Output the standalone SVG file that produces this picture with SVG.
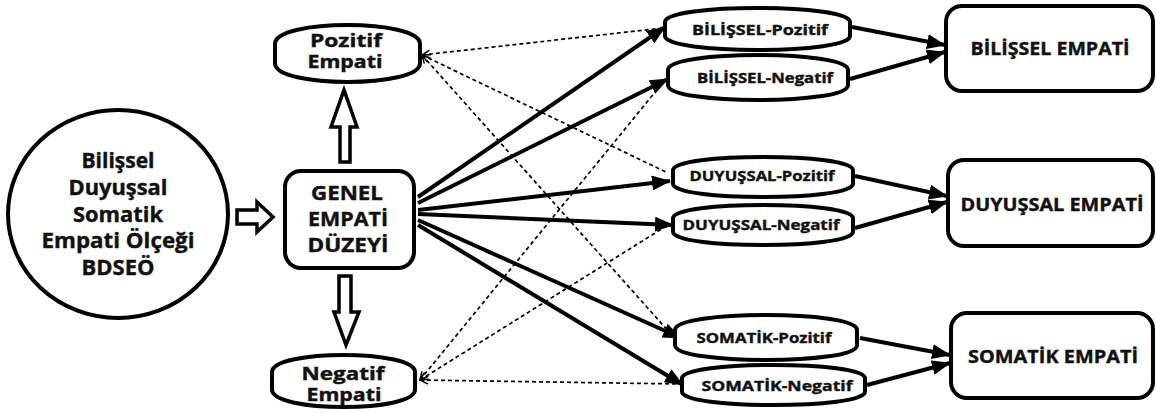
<svg xmlns="http://www.w3.org/2000/svg" width="1156" height="414" viewBox="0 0 1156 414">
<style>
  .shape { fill: #fff; stroke: #000; stroke-width: 4; }
  .block { fill: #fff; stroke: #000; stroke-width: 3.5; stroke-linejoin: miter; }
  .t { font-family: "Open Sans", "Noto Sans", "DejaVu Sans", sans-serif; font-weight: 700; fill: #111; stroke: #111; stroke-width: 0.4; text-anchor: middle; }
  .solid { stroke: #000; stroke-width: 4; fill: none; marker-end: url(#ah); }
  .dot { stroke: #000; stroke-width: 1.7; fill: none; stroke-dasharray: 4 3; marker-start: url(#oh); }
</style>
<defs>
  <marker id="ah" markerUnits="userSpaceOnUse" markerWidth="19" markerHeight="15" refX="18" refY="7.5" orient="auto">
    <path d="M0,0 L19,7.5 L0,15 Z" fill="#000"/>
  </marker>
  <marker id="oh" markerUnits="userSpaceOnUse" markerWidth="10" markerHeight="10" refX="1" refY="5" orient="auto">
    <path d="M9,1 L1,5 L9,9" fill="none" stroke="#000" stroke-width="1.5"/>
  </marker>
</defs>
<rect width="1156" height="414" fill="#fff"/>

<g id="connectors">
  <!-- dotted from Pozitif Empati -->
  <line class="dot" x1="422" y1="55" x2="663" y2="28"/>
  <line class="dot" x1="422" y1="55" x2="668" y2="173"/>
  <line class="dot" x1="422" y1="55" x2="670" y2="333"/>
  <!-- dotted from Negatif Empati -->
  <line class="dot" x1="420" y1="380" x2="665" y2="80"/>
  <line class="dot" x1="420" y1="380" x2="668" y2="225"/>
  <line class="dot" x1="420" y1="380" x2="680" y2="384"/>
  <!-- solid from GENEL -->
  <line class="solid" x1="418" y1="197" x2="665" y2="27"/>
  <line class="solid" x1="418" y1="203" x2="668" y2="79"/>
  <line class="solid" x1="418" y1="210" x2="670" y2="181"/>
  <line class="solid" x1="418" y1="214" x2="673" y2="225"/>
  <line class="solid" x1="418" y1="220" x2="681" y2="338"/>
  <line class="solid" x1="418" y1="225" x2="683" y2="385"/>
  <!-- to big boxes -->
  <line class="solid" x1="852" y1="27" x2="945" y2="45"/>
  <line class="solid" x1="850" y1="79" x2="945" y2="52"/>
  <line class="solid" x1="855" y1="176" x2="947" y2="196"/>
  <line class="solid" x1="855" y1="228" x2="947" y2="202"/>
  <line class="solid" x1="860" y1="338" x2="950" y2="355"/>
  <line class="solid" x1="867" y1="385" x2="950" y2="363"/>
  <!-- block arrows -->
  <path class="block" d="M237,210 L257,210 L257,202 L273,217 L257,232 L257,224 L237,224 Z"/>
  <path class="block" d="M340,162 L340,127 L331,127 L344,90 L357,127 L350,127 L350,162 Z"/>
  <path class="block" d="M339,276 L351,276 L351,312 L359,312 L346,345 L334,312 L339,312 Z"/>
</g>

<g id="scale">
  <ellipse class="shape" cx="118" cy="214" rx="110" ry="104"/>
  <text class="t" x="118" y="168" font-size="21" textLength="73" lengthAdjust="spacingAndGlyphs">Bilişsel</text>
  <text class="t" x="118" y="195" font-size="21" textLength="99" lengthAdjust="spacingAndGlyphs">Duyuşsal</text>
  <text class="t" x="118" y="222" font-size="21" textLength="90" lengthAdjust="spacingAndGlyphs">Somatik</text>
  <text class="t" x="118" y="248" font-size="21" textLength="153" lengthAdjust="spacingAndGlyphs">Empati Ölçeği</text>
  <text class="t" x="118" y="275" font-size="21" textLength="73" lengthAdjust="spacingAndGlyphs">BDSEÖ</text>
</g>

<g id="genel">
  <rect class="shape" x="285" y="171" width="129" height="97" rx="16"/>
  <text class="t" x="347" y="200" font-size="20" textLength="72" lengthAdjust="spacingAndGlyphs">GENEL</text>
  <text class="t" x="348" y="226" font-size="20" textLength="80" lengthAdjust="spacingAndGlyphs">EMPATİ</text>
  <text class="t" x="348" y="252" font-size="20" textLength="81" lengthAdjust="spacingAndGlyphs">DÜZEYİ</text>
</g>

<g id="pozitif">
  <path class="shape" d="M275,43.8 C275,18.7 420,18.7 420,43.8 L420,63.2 C420,88.3 275,88.3 275,63.2 Z"/>
  <text class="t" x="346" y="47" font-size="17" textLength="72" lengthAdjust="spacingAndGlyphs">Pozitif</text>
  <text class="t" x="345" y="68" font-size="17" textLength="75" lengthAdjust="spacingAndGlyphs">Empati</text>
</g>

<g id="negatif">
  <path class="shape" d="M272,372.2 C272,349.3 415,349.3 415,372.2 L415,389.8 C415,412.7 272,412.7 272,389.8 Z"/>
  <text class="t" x="343" y="380" font-size="17" textLength="83" lengthAdjust="spacingAndGlyphs">Negatif</text>
  <text class="t" x="344" y="401" font-size="17" textLength="75" lengthAdjust="spacingAndGlyphs">Empati</text>
</g>

<g id="bilissel-pozitif">
  <path class="shape" d="M665,21.9 C665,3.4 850,3.4 850,21.9 L850,36.1 C850,54.6 665,54.6 665,36.1 Z"/>
  <text class="t" x="760" y="35" font-size="14" textLength="136" lengthAdjust="spacingAndGlyphs">BİLİŞSEL-Pozitif</text>
</g>
<g id="bilissel-negatif">
  <path class="shape" d="M668,69.9 C668,50 848,50 848,69.9 L848,85.2 C848,105 668,105 668,85.2 Z"/>
  <text class="t" x="765" y="83" font-size="14" textLength="136" lengthAdjust="spacingAndGlyphs">BİLİŞSEL-Negatif</text>
</g>
<g id="duyussal-pozitif">
  <path class="shape" d="M673,170.2 C673,152.6 853,152.6 853,170.2 L853,183.8 C853,201.4 673,201.4 673,183.8 Z"/>
  <text class="t" x="762" y="181" font-size="14" textLength="145" lengthAdjust="spacingAndGlyphs">DUYUŞSAL-Pozitif</text>
</g>
<g id="duyussal-negatif">
  <path class="shape" d="M673,218.2 C673,200.6 853,200.6 853,218.2 L853,231.8 C853,249.4 673,249.4 673,231.8 Z"/>
  <text class="t" x="761" y="230" font-size="14" textLength="157" lengthAdjust="spacingAndGlyphs">DUYUŞSAL-Negatif</text>
</g>
<g id="somatik-pozitif">
  <path class="shape" d="M675,329.9 C675,310 857,310 857,329.9 L857,345.2 C857,365 675,365 675,345.2 Z"/>
  <text class="t" x="764" y="343" font-size="14" textLength="135" lengthAdjust="spacingAndGlyphs">SOMATİK-Pozitif</text>
</g>
<g id="somatik-negatif">
  <path class="shape" d="M682,378.2 C682,360.6 865,360.6 865,378.2 L865,391.8 C865,409.4 682,409.4 682,391.8 Z"/>
  <text class="t" x="777" y="391" font-size="14.5" textLength="151" lengthAdjust="spacingAndGlyphs">SOMATİK-Negatif</text>
</g>

<g id="bilissel-empati">
  <rect class="shape" x="946" y="6" width="207" height="85" rx="16"/>
  <text class="t" x="1050" y="55" font-size="18" textLength="159" lengthAdjust="spacingAndGlyphs">BİLİŞSEL EMPATİ</text>
</g>
<g id="duyussal-empati">
  <rect class="shape" x="948" y="160" width="205" height="86" rx="16"/>
  <text class="t" x="1052" y="211" font-size="18" textLength="183" lengthAdjust="spacingAndGlyphs">DUYUŞSAL EMPATİ</text>
</g>
<g id="somatik-empati">
  <rect class="shape" x="951" y="313" width="202" height="85" rx="16"/>
  <text class="t" x="1053" y="363" font-size="18" textLength="170" lengthAdjust="spacingAndGlyphs">SOMATİK EMPATİ</text>
</g>
</svg>
